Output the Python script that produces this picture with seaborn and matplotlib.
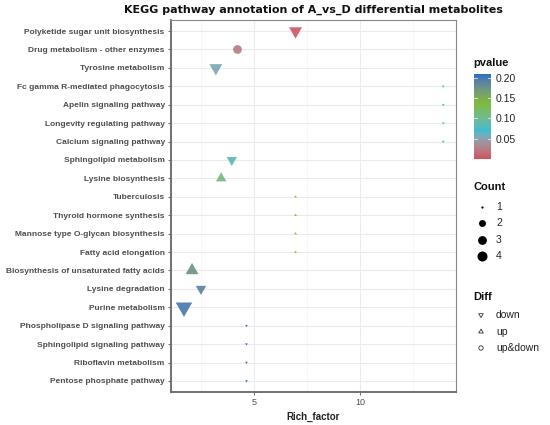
import numpy as np
import pandas as pd
import matplotlib
matplotlib.use("Agg")
import matplotlib.pyplot as plt
import seaborn as sns
from matplotlib.colors import ListedColormap, Normalize, to_rgb
from matplotlib.path import Path
from matplotlib.cm import ScalarMappable

# ---------------- data ----------------
pathways = [
    "Polyketide sugar unit biosynthesis",
    "Drug metabolism - other enzymes",
    "Tyrosine metabolism",
    "Fc gamma R-mediated phagocytosis",
    "Apelin signaling pathway",
    "Longevity regulating pathway",
    "Calcium signaling pathway",
    "Sphingolipid metabolism",
    "Lysine biosynthesis",
    "Tuberculosis",
    "Thyroid hormone synthesis",
    "Mannose type O-glycan biosynthesis",
    "Fatty acid elongation",
    "Biosynthesis of unsaturated fatty acids",
    "Lysine degradation",
    "Purine metabolism",
    "Phospholipase D signaling pathway",
    "Sphingolipid signaling pathway",
    "Riboflavin metabolism",
    "Pentose phosphate pathway",
]
rich_factor = [6.95, 4.2, 3.2, 13.9, 13.9, 13.9, 13.9, 3.95, 3.45,
               6.95, 6.95, 6.95, 6.95, 2.08, 2.5, 1.7, 4.64, 4.64, 4.64, 4.64]
pvalue = [0.004, 0.025, 0.055, 0.07, 0.07, 0.07, 0.07, 0.085, 0.11,
          0.14, 0.14, 0.14, 0.14, 0.172, 0.188, 0.198, 0.209, 0.209, 0.209, 0.209]
count = [3, 3, 3, 1, 1, 1, 1, 2, 2, 1, 1, 1, 1, 3, 2, 4, 1, 1, 1, 1]
diff = ["down", "up&down", "down", "down", "down", "down", "down", "down", "up",
        "up", "up", "up", "up", "up", "down", "down", "down", "down", "down", "down"]

count_levels = [1, 2, 3, 4]
diff_levels = ["down", "up", "up&down"]
p_ticks = [0.05, 0.10, 0.15, 0.20]
gradient_colors = ["#D0505F", "#3DBBD0", "#7DBA3A", "#1F6FC2"]

df = pd.DataFrame({"Pathway": pathways, "Rich_factor": rich_factor,
                   "pvalue": pvalue, "Count": count, "Diff": diff})
# numeric position of each pathway on the categorical axis
df["ypos"] = pd.Categorical(df["Pathway"], categories=pathways).codes


# ---------------- Lab-interpolated gradient (like ggplot's gradientn) ----------------
M = np.array([[0.4124564, 0.3575761, 0.1804375],
              [0.2126729, 0.7151522, 0.0721750],
              [0.0193339, 0.1191920, 0.9503041]])
WHITE = np.array([0.95047, 1.0, 1.08883])


def rgb2lab(rgb):
    c = np.asarray(rgb, float)
    lin = np.where(c <= 0.04045, c / 12.92, ((c + 0.055) / 1.055) ** 2.4)
    xyz = M @ lin / WHITE
    f = np.where(xyz > 0.008856, np.cbrt(xyz), 7.787 * xyz + 16 / 116)
    return np.array([116 * f[1] - 16, 500 * (f[0] - f[1]), 200 * (f[1] - f[2])])


def lab2rgb(lab):
    L, a, b = lab
    fy = (L + 16) / 116
    fx = fy + a / 500
    fz = fy - b / 200
    f = np.array([fx, fy, fz])
    xyz = np.where(f ** 3 > 0.008856, f ** 3, (f - 16 / 116) / 7.787) * WHITE
    lin = np.linalg.solve(M, xyz)
    lin = np.clip(lin, 0, 1)
    c = np.where(lin <= 0.0031308, 12.92 * lin, 1.055 * lin ** (1 / 2.4) - 0.055)
    return np.clip(c, 0, 1)


labs = [rgb2lab(to_rgb(c)) for c in gradient_colors]
nodes = np.linspace(0, 1, len(labs))
samples = []
for t in np.linspace(0, 1, 256):
    i = min(np.searchsorted(nodes, t, side="right") - 1, len(labs) - 2)
    u = (t - nodes[i]) / (nodes[i + 1] - nodes[i])
    samples.append(lab2rgb(labs[i] * (1 - u) + labs[i + 1] * u))
cmap = ListedColormap(samples)

pmin, pmax = 0.0, 0.209
norm = Normalize(pmin, pmax)

s3 = np.sqrt(3)
tri_down = Path([(-1, s3 / 3), (1, s3 / 3), (0, -2 * s3 / 3), (-1, s3 / 3)],
                [Path.MOVETO, Path.LINETO, Path.LINETO, Path.CLOSEPOLY])
tri_up = Path([(-1, -s3 / 3), (1, -s3 / 3), (0, 2 * s3 / 3), (-1, -s3 / 3)],
              [Path.MOVETO, Path.LINETO, Path.LINETO, Path.CLOSEPOLY])
markers = {"down": tri_down, "up": tri_up, "up&down": "o"}

circle_sizes = {1: 2.6, 2: 25, 3: 40, 4: 52}
tri_sizes = {1: 5.0, 2: 76, 3: 117, 4: 190}

W, H = 550, 425
fig = plt.figure(figsize=(W / 100, H / 100), dpi=100)
ax = fig.add_axes([171 / W, (H - 392) / H, (456 - 171) / W, (392 - 20) / H])

label_font = ["Liberation Sans", "DejaVu Sans"]

tri = df[df["Diff"] != "up&down"]
circ = df[df["Diff"] == "up&down"]

sns.scatterplot(data=tri, x="Rich_factor", y="ypos", hue="pvalue",
                palette=cmap, hue_norm=norm, size="Count", sizes=tri_sizes,
                style="Diff", markers=markers, linewidth=0, alpha=0.92,
                legend=False, ax=ax, zorder=3)
sns.scatterplot(data=circ, x="Rich_factor", y="ypos", hue="pvalue",
                palette=cmap, hue_norm=norm, size="Count", sizes=circle_sizes,
                style="Diff", markers=markers, linewidth=0, alpha=0.92,
                legend=False, ax=ax, zorder=3)

ax.set_yticks(range(len(pathways)))
ax.set_yticklabels(pathways)
ax.set_ylim(len(pathways) - 0.4, -0.6)
ax.set_xlim(1.09, 14.5)
ax.set_xticks([5, 10])
ax.set_xticks([2.5, 7.5, 12.5], minor=True)

ax.grid(True, which="major", color="#EBEBEB", linewidth=0.8, zorder=0)
ax.grid(True, which="minor", axis="x", color="#F3F3F3", linewidth=0.5, zorder=0)
ax.set_axisbelow(True)

for lab in ax.get_yticklabels():
    lab.set_fontfamily(label_font)
    lab.set_fontweight("bold")
    lab.set_fontsize(6.05)
    lab.set_color("#4D4D4D")
for lab in ax.get_xticklabels():
    lab.set_fontfamily(label_font)
    lab.set_fontsize(6.5)
    lab.set_color("#4D4D4D")
ax.tick_params(axis="both", which="major", length=2.5, width=0.6, color="#555555", pad=2)
ax.tick_params(axis="x", which="minor", length=0)

ax.set_xlabel("Rich_factor", fontfamily=label_font, fontweight="bold",
              fontsize=7, color="#222222", labelpad=3)
ax.set_ylabel("")
for side in ["left", "bottom"]:
    ax.spines[side].set_color("#666666")
    ax.spines[side].set_linewidth(1.3)
for side in ["top", "right"]:
    ax.spines[side].set_color("#888888")
    ax.spines[side].set_linewidth(0.8)

fig.text(313.5 / W, 1 - 10 / H,
         "KEGG pathway annotation of A_vs_D differential metabolites",
         ha="center", va="center", fontsize=8.0, fontweight="bold",
         family="DejaVu Sans", color="#111111")

# ---------------- colorbar ----------------
cax = fig.add_axes([474 / W, (H - 159) / H, 17 / W, (159 - 74) / H])
sm = ScalarMappable(norm=norm, cmap=cmap)
cb = fig.colorbar(sm, cax=cax)
cb.outline.set_visible(False)
cb.set_ticks(p_ticks)
cb.set_ticklabels([f"{t:.2f}" for t in p_ticks])
cax.tick_params(length=0, pad=3, labelsize=7.5, labelcolor="#222222")
for lab in cax.get_yticklabels():
    lab.set_fontfamily(label_font)
for t in p_ticks:
    cax.plot([0, 0.18], [t, t], color="white", lw=0.6, alpha=0.8,
             transform=cax.get_yaxis_transform())
    cax.plot([0.82, 1], [t, t], color="white", lw=0.6, alpha=0.8,
             transform=cax.get_yaxis_transform())

# ---------------- legends (overlay in pixel space) ----------------
lax = fig.add_axes([0, 0, 1, 1], facecolor="none")
lax.set_xlim(0, W)
lax.set_ylim(H, 0)
lax.axis("off")

title_kw = dict(fontsize=8, fontweight="bold", family=label_font, color="#111111",
                va="center", ha="left")
item_kw = dict(fontsize=7.5, family=label_font, color="#222222", va="center", ha="left")

lax.text(473, 63, "pvalue", **title_kw)

lax.text(473, 187, "Count", **title_kw)
count_y = [207.3, 223, 239.7, 256]
for c, yy in zip(count_levels, count_y):
    lax.scatter([481.7], [yy], s=circle_sizes[c], color="black", linewidth=0)
    lax.text(496, yy, str(c), **item_kw)

lax.text(473, 297, "Diff", **title_kw)
diff_y = [315, 331.7, 348]
for d, yy in zip(diff_levels, diff_y):
    lax.scatter([481], [yy], s=14 if d != "up&down" else 10, marker=markers[d],
                facecolor="none", edgecolor="#333333", linewidth=0.6)
    lax.text(496, yy, d, **item_kw)

fig.savefig("out.png", dpi=100)
